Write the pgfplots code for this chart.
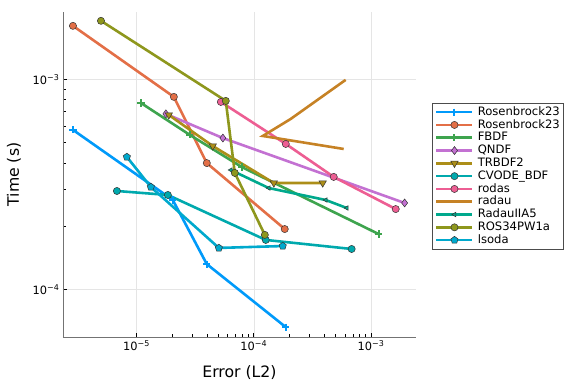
\documentclass[border=0pt]{standalone}
\usepackage{fontspec}
\setmainfont{DejaVu Sans}
\usepackage{pgfplots}
\pgfplotsset{compat=1.18}
\definecolor{c1}{RGB}{0,154,250}
\definecolor{c2}{RGB}{227,111,71}
\definecolor{c3}{RGB}{62,164,78}
\definecolor{c4}{RGB}{195,113,210}
\definecolor{c5}{RGB}{172,142,24}
\definecolor{c6}{RGB}{0,169,173}
\definecolor{c7}{RGB}{237,94,147}
\definecolor{c8}{RGB}{198,130,37}
\definecolor{c9}{RGB}{0,169,141}
\definecolor{c10}{RGB}{142,151,29}
\definecolor{c11}{RGB}{0,169,205}
\begin{document}
\begin{tikzpicture}
\useasboundingbox (0,0) rectangle (576pt,384pt);
\begin{axis}[
  at={(63pt,47pt)}, anchor=south west,
  scale only axis, width=353pt, height=325pt,
  xmode=log, ymode=log,
  xmin=2.355e-6, xmax=2.421e-3, ymin=5.929e-5, ymax=2.089e-3,
  axis x line*=bottom, axis y line*=left,
  axis line style={draw=black!55, line width=0.9pt, -},
  xtick={1e-5,1e-4,1e-3}, ytick={1e-4,1e-3},
  xticklabels={10\textsuperscript{−5},10\textsuperscript{−4},10\textsuperscript{−3}},
  yticklabels={10\textsuperscript{−4},10\textsuperscript{−3}},
  minor tick num=0,
  tick align=inside, major tick length=4pt,
  tick style={black, line width=0.6pt},
  ticklabel style={font=\fontsize{11.4}{12}\selectfont},
  grid=major, major grid style={black!10, line width=0.5pt},
  xlabel={Error (L2)}, ylabel={Time (s)},
  label style={font=\fontsize{15.7}{17}\selectfont},
  xlabel style={at={(axis description cs:0.5,-0.108)}, anchor=center},
  ylabel style={at={(axis description cs:-0.139,0.5)}, anchor=center, rotate=0},
  legend style={at={(1.045,0.495)}, anchor=west, draw=black!70, line width=0.6pt,
    font=\fontsize{11.6}{12}\selectfont, row sep=1.3pt, inner xsep=3pt, inner ysep=3pt,
    /tikz/every odd column/.style={column sep=3.5pt},
    nodes={inner sep=0.5pt, text height=8.5pt, text depth=2pt, anchor=west}},
  legend cell align=left,
  legend image code/.code={\draw[mark repeat=2,mark phase=2,#1] plot coordinates {(0pt,0pt)(18pt,0pt)(36pt,0pt)};},
  every axis plot/.append style={line width=2.6pt},
]
\addplot[c1, mark=+, mark size=3.6pt, mark options={line width=2pt, solid}] coordinates {
(2.864e-6,5.741e-4) (2.037e-5,2.661e-4) (3.972e-5,1.318e-4) (1.875e-4,6.607e-5)};
\addlegendentry{Rosenbrock23}
\addplot[c2, mark=*, mark size=3.6pt, mark options={fill=c2, draw=black!80, line width=0.5pt}] coordinates {
(2.864e-6,1.795e-3) (2.080e-5,8.241e-4) (3.972e-5,3.990e-4) (1.837e-4,1.936e-4)};
\addlegendentry{Rosenbrock23}
\addplot[c3, mark=+, mark size=3.6pt, mark options={line width=2pt, solid}] coordinates {
(1.089e-5,7.709e-4) (2.844e-5,5.433e-4) (7.907e-5,3.819e-4) (1.164e-3,1.832e-4)};
\addlegendentry{FBDF}
\addplot[c4, mark=diamond*, mark size=4pt, mark options={fill=c4, draw=black!80, line width=0.5pt}] coordinates {
(1.778e-5,6.839e-4) (5.445e-5,5.248e-4) (1.936e-3,2.576e-4)};
\addlegendentry{QNDF}
\addplot[c5, mark=triangle*, mark size=4.2pt, mark options={fill=c5, draw=black!80, line width=0.5pt, rotate=180}] coordinates {
(1.884e-5,6.761e-4) (4.467e-5,4.808e-4) (1.483e-4,3.206e-4) (3.873e-4,3.206e-4)};
\addlegendentry{TRBDF2}
\addplot[c6, mark=*, mark size=3.6pt, mark options={fill=c6, draw=black!80, line width=0.5pt}] coordinates {
(6.792e-6,2.938e-4) (1.849e-5,2.812e-4) (1.265e-4,1.718e-4) (6.839e-4,1.556e-4)};
\addlegendentry{CVODE\_BDF}
\addplot[c7, mark=*, mark size=3.6pt, mark options={fill=c7, draw=black!80, line width=0.5pt}] coordinates {
(5.236e-5,7.798e-4) (1.875e-4,4.920e-4) (4.808e-4,3.428e-4) (1.626e-3,2.410e-4)};
\addlegendentry{rodas}
\addplot[c8, mark=none] coordinates {
(6.081e-4,9.931e-4) (2.065e-4,6.471e-4) (1.194e-4,5.370e-4) (5.848e-4,4.656e-4)};
\addlegendentry{radau}
\addplot[c9, mark=triangle*, mark size=2.6pt, mark options={fill=c9, draw=black!80, line width=0.5pt, rotate=90}] coordinates {
(6.368e-5,3.698e-4) (1.343e-4,3.034e-4) (4.111e-4,2.661e-4) (6.209e-4,2.438e-4)};
\addlegendentry{RadauIIA5}
\addplot[c10, mark=*, mark size=3.6pt, mark options={fill=c10, draw=black!80, line width=0.5pt}] coordinates {
(4.966e-6,1.897e-3) (5.768e-5,7.889e-4) (6.887e-5,3.581e-4) (1.242e-4,1.816e-4)};
\addlegendentry{ROS34PW1a}
\addplot[c11, mark=pentagon*, mark size=3.8pt, mark options={fill=c11, draw=black!80, line width=0.5pt}] coordinates {
(8.260e-6,4.266e-4) (1.324e-5,3.069e-4) (5.035e-5,1.574e-4) (1.766e-4,1.607e-4)};
\addlegendentry{lsoda}
\end{axis}
\end{tikzpicture}
\end{document}
